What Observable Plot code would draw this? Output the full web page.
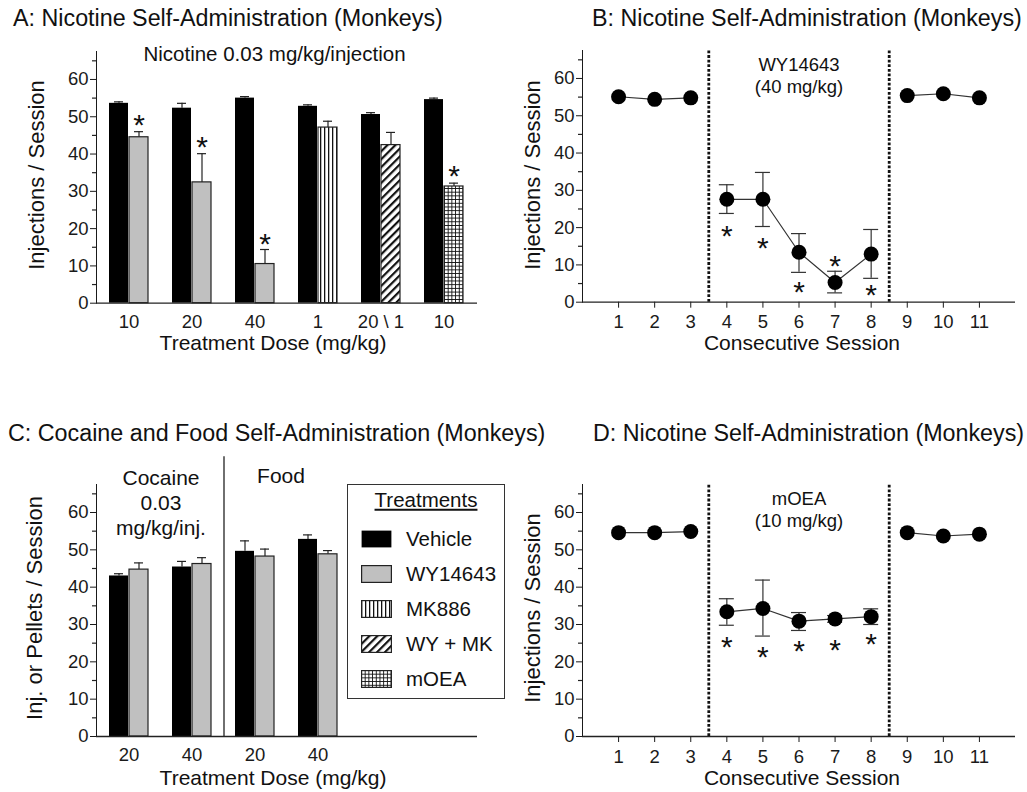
<!DOCTYPE html>
<html>
<head>
<meta charset="utf-8">
<script src="https://cdn.jsdelivr.net/npm/d3@7"></script>
<script src="https://cdn.jsdelivr.net/npm/@observablehq/plot@0.6"></script>
<style>
  body { margin: 0; background: #fff; font-family: "Liberation Sans", Arial, Helvetica, sans-serif; color: #111; }
  #wrap { position: relative; width: 1027px; height: 792px; overflow: hidden; background: #fff; }
  .abs { position: absolute; }
  .title { position: absolute; font-size: 23.3px; white-space: nowrap; line-height: 1; transform: translateY(-50%); }
  .xlab { position: absolute; font-size: 21px; white-space: nowrap; line-height: 1; transform: translate(-50%, -50%); }
  .ylab { position: absolute; font-size: 22px; white-space: nowrap; line-height: 1; transform: translate(-50%, -50%) rotate(-90deg); }
  #legend { position: absolute; left: 347px; top: 484px; width: 156px; height: 213px; border: 1.3px solid #333; font-size: 20.5px; }
  #legend .lt { position: absolute; left: 50%; top: 15px; transform: translate(-50%, -50%); text-decoration: underline; line-height: 1; white-space: nowrap; }
  #legend .row { position: absolute; left: 13px; height: 18px; display: flex; align-items: center; white-space: nowrap; line-height: 1; }
  #legend .row span { margin-left: 14px; }
</style>
</head>
<body>
<div id="wrap">
  <svg width="0" height="0" style="position:absolute">
    <defs>
      <pattern id="pVert" patternUnits="userSpaceOnUse" width="4" height="4">
        <rect width="4" height="4" fill="#fff"/>
        <rect x="0" width="1.3" height="4" fill="#111"/>
      </pattern>
      <pattern id="pDiag" patternUnits="userSpaceOnUse" width="5.6" height="5.6" patternTransform="rotate(45)">
        <rect width="5.6" height="5.6" fill="#fff"/>
        <rect x="0" width="2.2" height="5.6" fill="#111"/>
      </pattern>
      <pattern id="pGrid" patternUnits="userSpaceOnUse" width="3.7" height="3.7">
        <rect width="3.7" height="3.7" fill="#fff"/>
        <rect width="0.9" height="3.7" fill="#111"/>
        <rect width="3.7" height="0.9" fill="#111"/>
      </pattern>
    </defs>
  </svg>

  <div class="title" style="left:13px;top:19px">A: Nicotine Self-Administration (Monkeys)</div>
  <div class="title" style="left:592px;top:19px">B: Nicotine Self-Administration (Monkeys)</div>
  <div class="title" style="left:8px;top:434px">C: Cocaine and Food Self-Administration (Monkeys)</div>
  <div class="title" style="left:593px;top:434px">D: Nicotine Self-Administration (Monkeys)</div>

  <div id="pA" class="abs" style="left:0px;top:40px;width:510px"></div>
  <div id="pB" class="abs" style="left:510px;top:40px;width:517px"></div>
  <div id="pC" class="abs" style="left:0px;top:450px;width:510px"></div>
  <div id="pD" class="abs" style="left:510px;top:450px;width:517px"></div>

  <div class="ylab" style="left:37px;top:175px">Injections / Session</div>
  <div class="ylab" style="left:533px;top:175px">Injections / Session</div>
  <div class="ylab" style="left:35px;top:608px">Inj. or Pellets / Session</div>
  <div class="ylab" style="left:533px;top:608px">Injections / Session</div>

  <div class="xlab" style="left:273px;top:342px">Treatment Dose (mg/kg)</div>
  <div class="xlab" style="left:802px;top:342px">Consecutive Session</div>
  <div class="xlab" style="left:273px;top:777px">Treatment Dose (mg/kg)</div>
  <div class="xlab" style="left:802px;top:777px">Consecutive Session</div>

  <div id="legend"><div class="lt">Treatments</div></div>
</div>

<script>
// ---------------- DATA ----------------
// Panel A: nicotine self-administration, vehicle vs treatment
const doseLabelsA = ["10", "20", "40", "1", "20 \\ 1", "10"];
const treatmentA = ["WY14643", "WY14643", "WY14643", "MK886", "WY + MK", "mOEA"];
const vehicleA = [53.6, 52.3, 55.0, 52.8, 50.6, 54.6];
const vehicleSemA = [0.4, 1.3, 0.4, 0.4, 0.5, 0.4];
const treatA = [44.5, 32.4, 10.5, 47.1, 42.4, 31.3];
const treatSemA = [1.5, 7.7, 3.9, 1.7, 3.4, 0.9];
const starA = [49.6, 43.8, 17.7, null, null, 36.0];

// Panel C: cocaine and food, vehicle vs WY14643
const doseLabelsC = ["20", "40", "20", "40"];
const treatmentC = ["WY14643", "WY14643", "WY14643", "WY14643"];
const vehicleC = [43.0, 45.4, 49.6, 52.8];
const vehicleSemC = [0.6, 1.5, 2.8, 1.2];
const treatC = [44.7, 46.2, 48.2, 48.8];
const treatSemC = [1.8, 1.7, 2.0, 1.0];

// Panels B and D: consecutive sessions
const sessions = [1, 2, 3, 4, 5, 6, 7, 8, 9, 10, 11];
const phase = ["pre", "pre", "pre", "trt", "trt", "trt", "trt", "trt", "post", "post", "post"];
const phaseBoundaries = [3.5, 8.5];

const valuesB = [55.1, 54.4, 54.8, 27.6, 27.6, 13.4, 5.3, 12.9, 55.4, 55.9, 54.8];
const lowB = [null, null, null, 23.8, 20.3, 8.0, 2.5, 6.4, null, null, null];
const highB = [null, null, null, 31.5, 34.8, 18.4, 8.3, 19.5, null, null, null];
const starB = [null, null, null, 19.6, 16.5, 4.6, 11.6, 3.9, null, null, null];

const valuesD = [54.6, 54.6, 54.9, 33.4, 34.3, 30.9, 31.5, 32.1, 54.6, 53.7, 54.2];
const lowD = [null, null, null, 29.8, 26.9, 28.4, 30.6, 30.0, null, null, null];
const highD = [null, null, null, 36.9, 41.9, 33.2, 32.4, 34.2, null, null, null];
const starD = [null, null, null, 25.8, 23.3, 24.7, 25.2, 26.6, null, null, null];

const yTicks = [0, 10, 20, 30, 40, 50, 60];
const yMinorTicks = [5, 15, 25, 35, 45, 55, 65];
const legendNames = ["Vehicle", "WY14643", "MK886", "WY + MK", "mOEA"];

// ---------------- STYLE ----------------
const FONT = '"Liberation Sans", Arial, Helvetica, sans-serif';
const AX = "#222";
const Y_TOP = 67.5;
const STAR_SIZE = 30;
const fills = {
  "Vehicle": "#000",
  "WY14643": "#c0c0c0",
  "MK886": "url(#pVert)",
  "WY + MK": "url(#pDiag)",
  "mOEA": "url(#pGrid)"
};
const baseStyle = {fontFamily: FONT, fontSize: "18.5px", color: "#1a1a1a", background: "transparent", overflow: "visible"};

function yAxis() {
  return {domain: [0, Y_TOP], ticks: yTicks, tickSize: 6, tickPadding: 2, line: true, label: null};
}
function minorTicksMark(frameW) {
  return Plot.tickY(yMinorTicks, {y: d => d, dx: -4, insetRight: frameW - 4, stroke: AX, strokeWidth: 1.2});
}

function barPanel({labels, veh, vehSem, trt, trtSem, trtName, stars, width, height, mt, mb, ml, mr, xRange, extra = []}) {
  const rows = labels.map((l, i) => ({
    i, veh: veh[i], vehHi: veh[i] + vehSem[i], trt: trt[i], trtHi: trt[i] + trtSem[i],
    name: trtName[i], star: stars ? stars[i] : null
  }));
  const frameW = width - ml - mr;
  const names = Array.from(new Set(trtName));
  const marks = [
    minorTicksMark(frameW),
    Plot.ruleX(rows, {x: "i", y1: "veh", y2: "vehHi", dx: -10, stroke: AX, strokeWidth: 1.2}),
    Plot.tickY(rows, {x: "i", y: "vehHi", insetLeft: 5, insetRight: 25, stroke: AX, strokeWidth: 1.2}),
    Plot.ruleX(rows, {x: "i", y1: "trt", y2: "trtHi", dx: 10, stroke: AX, strokeWidth: 1.2}),
    Plot.tickY(rows, {x: "i", y: "trtHi", insetLeft: 25, insetRight: 5, stroke: AX, strokeWidth: 1.2}),
    Plot.barY(rows, {x: "i", y: "veh", insetRight: 20, fill: fills["Vehicle"]}),
    ...names.map(n => Plot.barY(rows.filter(r => r.name === n), {x: "i", y: "trt", insetLeft: 20, fill: fills[n], stroke: "#222", strokeWidth: 1.2})),
    Plot.text(rows.filter(r => r.star != null), {x: "i", y: "star", text: () => "*", dx: 10, dy: 7.5, fontSize: STAR_SIZE, fill: "#111"}),
    Plot.ruleY([0], {stroke: AX, strokeWidth: 1.3}),
    ...extra
  ];
  return Plot.plot({
    width, height, marginTop: mt, marginBottom: mb, marginLeft: ml, marginRight: mr,
    style: baseStyle,
    x: {domain: d3.range(labels.length), range: xRange, paddingInner: 0.375, paddingOuter: 0.173, align: 0.5,
        tickSize: 0, tickPadding: 11.5, tickFormat: i => labels[i], label: null},
    y: yAxis(),
    marks
  });
}

function sessionPanel({values, low, high, stars, annot, width, height, mt, mb, ml, mr, tickPad}) {
  const rows = sessions.map((s, i) => ({s, v: values[i], phase: phase[i], lo: low[i], hi: high[i], star: stars[i]}));
  const errRows = rows.filter(r => r.lo != null);
  const frameW = width - ml - mr;
  return Plot.plot({
    width, height, marginTop: mt, marginBottom: mb, marginLeft: ml, marginRight: mr,
    style: baseStyle,
    x: {domain: [0, 12], ticks: sessions, tickSize: 6, tickPadding: tickPad, label: null},
    y: yAxis(),
    marks: [
      minorTicksMark(frameW),
      Plot.ruleX(phaseBoundaries, {x: d => d, y1: 0, y2: Y_TOP, stroke: "#111", strokeWidth: 2.8, strokeDasharray: "2.8,1.8"}),
      Plot.line(rows, {x: "s", y: "v", z: "phase", stroke: "#333", strokeWidth: 1.2}),
      Plot.ruleX(errRows, {x: "s", y1: "lo", y2: "hi", stroke: "#333", strokeWidth: 1.2}),
      Plot.ruleY(errRows, {y: "hi", x1: "s", x2: "s", insetLeft: -7.5, insetRight: -7.5, stroke: "#333", strokeWidth: 1.2}),
      Plot.ruleY(errRows, {y: "lo", x1: "s", x2: "s", insetLeft: -7.5, insetRight: -7.5, stroke: "#333", strokeWidth: 1.2}),
      Plot.dot(rows, {x: "s", y: "v", r: 7.5, fill: "#000", stroke: "none"}),
      Plot.text(rows.filter(r => r.star != null), {x: "s", y: "star", text: () => "*", dy: 7.5, fontSize: STAR_SIZE, fill: "#111"}),
      Plot.text([annot], {x: d => d.x, y: d => d.y, text: d => d.text, fontSize: 18.5, lineHeight: 1.19, lineAnchor: "middle", fill: "#111"}),
      Plot.ruleY([0], {stroke: AX, strokeWidth: 1.3})
    ]
  });
}

// Panel A
const plotA = barPanel({
  labels: doseLabelsA, veh: vehicleA, vehSem: vehicleSemA, trt: treatA, trtSem: treatSemA,
  trtName: treatmentA, stars: starA,
  width: 510, height: 320, mt: 11, mb: 57.3, ml: 96, mr: 33, xRange: [96, 477],
  extra: [
    Plot.text(["Nicotine 0.03 mg/kg/injection"], {frameAnchor: "top", lineAnchor: "middle", dx: -12.5, dy: 3, fontSize: 20.5, fill: "#111"})
  ]
});
document.getElementById("pA").appendChild(plotA);

// Panel C
const annotC = [{text: "Cocaine\n0.03\nmg/kg/inj.", group: 0, y: 62.8}];
const annotFood = [{text: "Food", group: 2, y: 69.7}];
const separatorC = [{group: 1, top: 74.9}];
const plotC = barPanel({
  labels: doseLabelsC, veh: vehicleC, vehSem: vehicleSemC, trt: treatC, trtSem: treatSemC,
  trtName: treatmentC, stars: null,
  width: 510, height: 340, mt: 34, mb: 54, ml: 96, mr: 33, xRange: [96, 349.4],
  extra: [
    Plot.ruleX(separatorC, {x: "group", y1: 0, y2: "top", dx: 32, stroke: AX, strokeWidth: 1.3}),
    Plot.text(annotC, {x: "group", y: "y", text: "text", dx: 32, fontSize: 21, lineHeight: 1.19, lineAnchor: "middle", fill: "#111"}),
    Plot.text(annotFood, {x: "group", y: "y", text: "text", dx: 26, fontSize: 21, lineAnchor: "middle", fill: "#111"})
  ]
});
document.getElementById("pC").appendChild(plotC);

// Panel B
const plotB = sessionPanel({
  values: valuesB, low: lowB, high: highB, stars: starB,
  annot: {x: 6, y: 61.0, text: "WY14643\n(40 mg/kg)"},
  width: 517, height: 320, mt: 10, mb: 58.3, ml: 72, mr: 12, tickPad: 6.5
});
document.getElementById("pB").appendChild(plotB);

// Panel D
const plotD = sessionPanel({
  values: valuesD, low: lowD, high: highD, stars: starD,
  annot: {x: 6, y: 60.9, text: "mOEA\n(10 mg/kg)"},
  width: 517, height: 340, mt: 34, mb: 54, ml: 72, mr: 12, tickPad: 7
});
document.getElementById("pD").appendChild(plotD);

// Legend (panel C)
const legend = document.getElementById("legend");
legendNames.forEach((n, k) => {
  const row = document.createElement("div");
  row.className = "row";
  row.style.top = (54 + k * 35 - 9) + "px";
  const stroke = n === "Vehicle" ? "none" : "#222";
  row.innerHTML = `<svg width="31" height="18"><rect x="0.6" y="0.6" width="29.8" height="16.8" fill="${fills[n]}" stroke="${stroke}" stroke-width="1.2"/></svg><span>${n}</span>`;
  legend.appendChild(row);
});
</script>
</body>
</html>
